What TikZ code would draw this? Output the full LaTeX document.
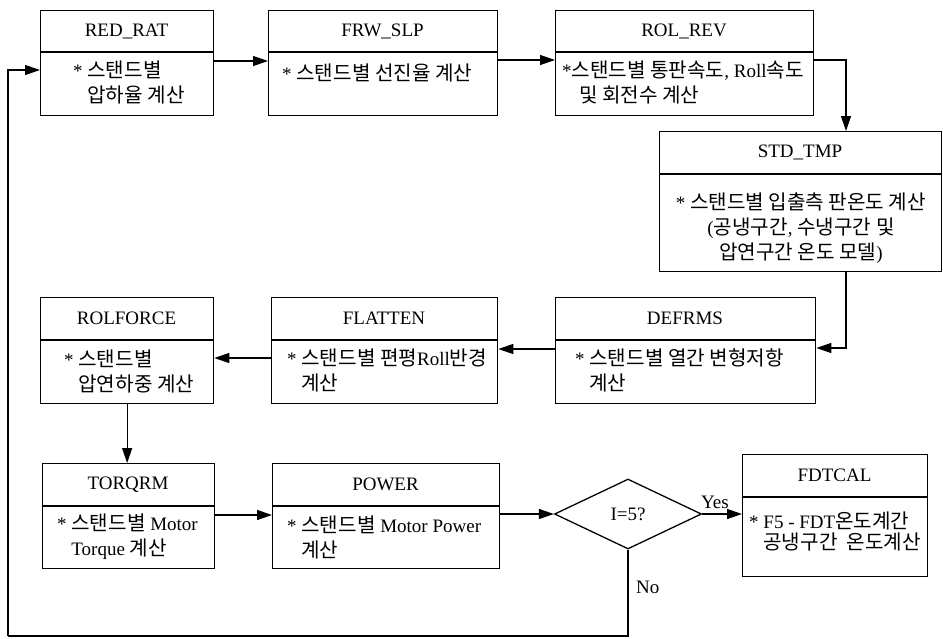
\documentclass[tikz,border=0pt]{standalone}
\usepackage{fontspec}
\setmainfont{Liberation Serif}
\newfontfamily\kr[Scale=1.06]{Noto Sans CJK KR}
\newcommand\K[1]{{\kr #1}}
\usetikzlibrary{arrows.meta,shapes.geometric}
\tikzset{
  stepbox/.style={draw, line width=1.3pt, rectangle, inner sep=0pt},
  divline/.style={line width=1.2pt},
  titlest/.style={font=\fontsize{19}{25}\selectfont, inner sep=0pt},
  bodyst/.style={font=\fontsize{19}{25}\selectfont, inner sep=0pt, align=left},
  arr/.style={line width=1.3pt, -{Triangle[length=15pt,width=10pt]}},
  plainline/.style={line width=1.3pt},
}
\newcommand\flowbox[7]{%
  \node[stepbox, minimum width={(#4-#2)*1pt}, minimum height={(#5-#3)*1pt}, anchor=north west] (#1) at (#2,#3) {};
  \draw[divline] (#2,#6) -- (#4,#6);
  \node[titlest] (#1-title) at ({(#2+#4)/2},{(#3+#6)/2}) {#7};
}
\begin{document}
\begin{tikzpicture}[x=1pt,y=-1pt]
\useasboundingbox (0,0) rectangle (943,638);

% boxes
\flowbox{redrat}{40}{10}{213}{115}{52}{RED\_RAT}
\flowbox{frw}{268}{10}{497}{115}{52}{FRW\_SLP}
\flowbox{rolrev}{555}{10}{813}{115}{52}{ROL\_REV}
\flowbox{stdtmp}{659}{131}{941}{271}{174}{STD\_TMP}
\flowbox{defrms}{555}{297}{815}{403}{340}{DEFRMS}
\flowbox{flatten}{271}{297}{497}{403}{340}{FLATTEN}
\flowbox{rolforce}{40}{297}{213}{403}{340}{ROLFORCE}
\flowbox{torqrm}{42}{463}{214}{568}{506}{TORQRM}
\flowbox{power}{272}{463}{499}{568}{506}{POWER}
\flowbox{fdtcal}{742}{454}{927}{576}{497}{FDTCAL}

% body texts
\node[bodyst, anchor=west] (redrat-b) at (73,82) {* \K{스탠드별}\\\phantom{* }\K{압하율 계산}};
\node[bodyst, anchor=west] (frw-b) at (282,73) {* \K{스탠드별 선진율 계산}};
\node[bodyst, anchor=west] (rolrev-b) at (562,82) {*\K{스탠드별 통판속도}, Roll\K{속도}\\\hspace{17pt}\K{및 회전수 계산}};
\node[bodyst, align=center] (stdtmp-b) at (801,228) {* \K{스탠드별 입출측 판온도 계산}\\(\K{공냉구간}, \K{수냉구간 및}\\\K{압연구간 온도 모델})};
\node[bodyst, anchor=west] (defrms-b) at (575,370) {* \K{스탠드별 열간 변형저항}\\\phantom{* }\K{계산}};
\node[bodyst, anchor=west] (flatten-b) at (287,370) {* \K{스탠드별 편평}Roll\K{반경}\\\phantom{* }\K{계산}};
\node[bodyst, anchor=west] (rolforce-b) at (64,371) {* \K{스탠드별}\\\phantom{* }\K{압연하중 계산}};
\node[bodyst, anchor=west] (torqrm-b) at (57,537) {* \K{스탠드별} Motor\\\phantom{* }Torque \K{계산}};
\node[bodyst, anchor=west] (power-b) at (287,537) {* \K{스탠드별} Motor Power\\\phantom{* }\K{계산}};
\node[bodyst, anchor=west, font=\fontsize{19}{21}\selectfont] (fdtcal-b) at (749,531) {* F5 - FDT\K{온도계간}\\\phantom{* }\K{공냉구간~~온도계산}};

% decision
\node[diamond, draw, line width=1.3pt, minimum width=147pt, minimum height=70pt, inner sep=0pt, font=\fontsize{19}{25}\selectfont] (dia) at (628,514) {I=5?};

% helper coordinates
\coordinate (y60) at (0,60);
\coordinate (y61) at (0,61);
\coordinate (y70) at (0,70);
\coordinate (y348) at (0,348);
\coordinate (y349) at (0,349);
\coordinate (y358) at (0,358);
\coordinate (y515) at (0,515);
\coordinate (x846) at (846,0);
\coordinate (lb) at (8,636);

% connectors
\draw[arr] (redrat.east |- y61) -- (frw.west |- y61);
\draw[arr] (frw.east |- y60) -- (rolrev.west |- y60);
\draw[arr] (rolrev.east |- y60) -| (stdtmp.north -| x846);
\draw[arr] (stdtmp.south -| x846) |- (defrms.east |- y348);
\draw[arr] (defrms.west |- y349) -- (flatten.east |- y349);
\draw[arr] (flatten.west |- y358) -- (rolforce.east |- y358);
\draw[arr] (rolforce.south) -- (rolforce.south |- torqrm.north);
\draw[arr] (torqrm.east |- y515) -- (power.west |- y515);
\draw[arr] (power.east |- dia.west) -- (dia.west);
\draw[arr] (dia.east) -- (fdtcal.west |- dia.east) node[pos=0.32, above=5pt, titlest] (yes) {Yes};
\draw[plainline] (dia.south) |- (lb);
\draw[arr] (lb) |- (redrat.west |- y70);
\node[titlest, anchor=west] (no) at (636,587) {No};
\end{tikzpicture}
\end{document}
